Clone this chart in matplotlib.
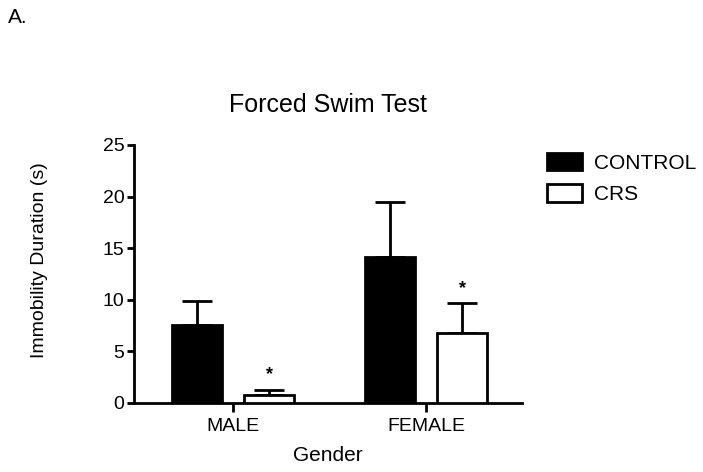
import matplotlib.pyplot as plt
import numpy as np

plt.rcParams['font.family'] = ['Liberation Sans', 'DejaVu Sans']

# Data
groups = ['MALE', 'FEMALE']
control_mean = [7.55, 14.15]
control_err = [2.35, 5.35]
crs_mean = [0.8, 6.8]
crs_err = [0.5, 2.9]
sig_labels = ['*', '*']

x = np.arange(len(groups))
offset = 0.187
width = 0.26

fig = plt.figure(figsize=(7.03, 4.72), dpi=100)
ax = fig.add_axes([0.1906, 0.1462, 0.552, 0.5466])

ax.bar(x - offset, control_mean, width, color='black', edgecolor='black',
       linewidth=2, label='CONTROL', zorder=3)
ax.bar(x + offset, crs_mean, width, color='white', edgecolor='black',
       linewidth=2, label='CRS', zorder=3)

# upper-only error bars
ax.errorbar(x - offset, control_mean, yerr=[np.zeros(2), control_err], fmt='none',
            ecolor='black', elinewidth=2, capsize=11, capthick=2, zorder=2)
ax.errorbar(x + offset, crs_mean, yerr=[np.zeros(2), crs_err], fmt='none',
            ecolor='black', elinewidth=2, capsize=11, capthick=2, zorder=2)

for xi, m, e, s in zip(x + offset, crs_mean, crs_err, sig_labels):
    ax.text(xi, m + e + 0.6, s, ha='center', va='bottom', fontsize=13,
            fontweight='bold')

ax.set_xlim(-0.513, 1.497)
ax.set_ylim(0, 25)
ax.set_yticks([0, 5, 10, 15, 20, 25])
ax.set_xticks(x)
ax.set_xticklabels(groups)

for side in ['top', 'right']:
    ax.spines[side].set_visible(False)
for side in ['left', 'bottom']:
    ax.spines[side].set_linewidth(2)
ax.tick_params(axis='both', width=2, labelsize=14)
ax.tick_params(axis='x', length=6.5, pad=4)
ax.tick_params(axis='y', length=5, pad=2)

ax.set_title('Forced Swim Test', fontsize=18, pad=24)
ax.set_xlabel('Gender', fontsize=15, labelpad=8)
ax.set_ylabel('Immobility Duration (s)', fontsize=14)
ax.yaxis.set_label_coords(-0.222, 0.554)

leg = fig.legend(*ax.get_legend_handles_labels(), loc='upper left',
                 bbox_to_anchor=(547 / 703, 1 - 153 / 472), frameon=False,
                 fontsize=15, handlelength=1.68, handleheight=0.91,
                 labelspacing=0.55, handletextpad=0.58, borderpad=0,
                 borderaxespad=0)

fig.text(0.011, 0.952, 'A.', fontsize=15)

plt.savefig('out.png', dpi=100)
